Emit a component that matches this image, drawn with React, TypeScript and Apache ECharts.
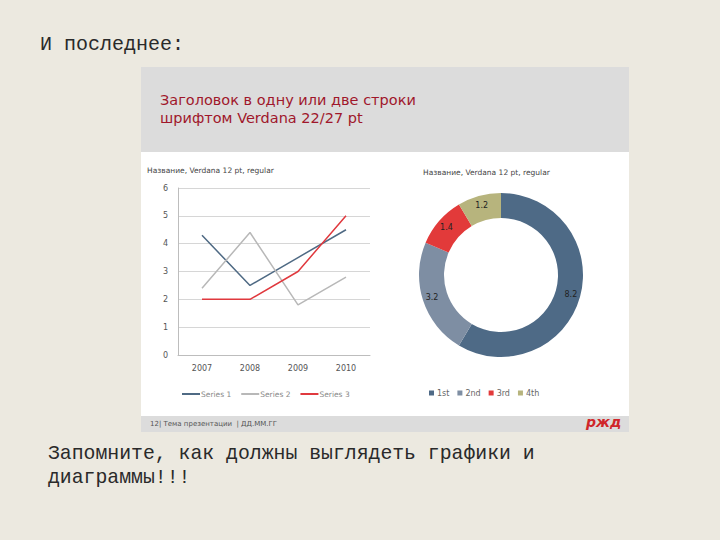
import React, { useEffect, useRef } from "react";
import * as echarts from "echarts";

const years = ["2007", "2008", "2009", "2010"];
const series1 = [4.3, 2.5, 3.5, 4.5];
const series2 = [2.4, 4.4, 1.8, 2.8];
const series3 = [2.0, 2.0, 3.0, 5.0];
const seriesNames = ["Series 1", "Series 2", "Series 3"];
const pieNames = ["1st", "2nd", "3rd", "4th"];
const pieValues = [8.2, 3.2, 1.4, 1.2];

const lineColors = ["#4F6A84", "#B8B8B8", "#E0393E"];
const pieColors = ["#4E6A86", "#7E8EA3", "#E23A3A", "#B7B47D"];

export default function App() {
  const ref = useRef<HTMLDivElement>(null);
  useEffect(() => {
    if (!ref.current) return;
    const chart = echarts.init(ref.current, undefined, { renderer: "svg" });
    const lineData = [series1, series2, series3];
    chart.setOption({
      animation: false,
      backgroundColor: "#ECE9E0",
      graphic: [
        { type: "rect", z: -10, shape: { x: 141, y: 67, width: 488, height: 365 }, style: { fill: "#FFFFFF" } },
        { type: "rect", z: -9, shape: { x: 141, y: 67, width: 488, height: 85 }, style: { fill: "#DCDCDC" } },
        { type: "rect", z: -9, shape: { x: 141, y: 416, width: 488, height: 16 }, style: { fill: "#DCDCDC" } },
        {
          type: "text", left: 40, top: 34,
          style: { text: "И последнее:", font: "20px 'Liberation Mono', monospace", fill: "#2A2A2A" },
        },
        {
          type: "text", left: 48, top: 444,
          style: { text: "Запомните, как должны выглядеть графики и", font: "19.8px 'Liberation Mono', monospace", fill: "#2A2A2A" },
        },
        {
          type: "text", left: 48, top: 468,
          style: { text: "диаграммы!!!", font: "19.8px 'Liberation Mono', monospace", fill: "#2A2A2A" },
        },
        {
          type: "text", left: 160, top: 91,
          style: { text: "Заголовок в одну или две строки\nшрифтом Verdana 22/27 pt", font: "14.5px 'DejaVu Sans', Verdana, sans-serif", fill: "#A0172B", lineHeight: 18 },
        },
        {
          type: "text", left: 147, top: 166,
          style: { text: "Название, Verdana 12 pt, regular", font: "7.5px 'DejaVu Sans', sans-serif", fill: "#444" },
        },
        {
          type: "text", left: 423, top: 168,
          style: { text: "Название, Verdana 12 pt, regular", font: "7.5px 'DejaVu Sans', sans-serif", fill: "#444" },
        },
        {
          type: "text", left: 150, top: 420,
          style: { text: "12| Тема презентации  | ДД.ММ.ГГ", font: "7px 'DejaVu Sans', sans-serif", fill: "#555" },
        },
        {
          type: "text", left: 586, top: 415,
          style: { text: "ржд", font: "italic bold 14px 'DejaVu Sans', sans-serif", fill: "#D0262A" },
        },
      ],
      grid: { left: 178, right: 350, top: 188, bottom: 185 },
      xAxis: {
        type: "category",
        data: years,
        boundaryGap: true,
        axisLine: { lineStyle: { color: "#BDBDBD" } },
        axisTick: { show: false },
        axisLabel: { fontSize: 8, color: "#555", margin: 9, fontFamily: "DejaVu Sans" },
      },
      yAxis: {
        type: "value",
        min: 0,
        max: 6,
        interval: 1,
        axisLine: { show: true, lineStyle: { color: "#BDBDBD" } },
        axisTick: { show: false },
        axisLabel: { fontSize: 8, color: "#555", margin: 10, fontFamily: "DejaVu Sans" },
        splitLine: { lineStyle: { color: "#D6D6D6" } },
      },
      legend: [
        {
          data: seriesNames,
          left: 177,
          top: 385,
          icon: "rect",
          itemWidth: 18,
          itemHeight: 2,
          itemGap: 10,
          textStyle: { fontSize: 7.5, color: "#888", fontFamily: "DejaVu Sans", padding: [0, 0, 0, -4] },
        },
        {
          data: pieNames,
          left: 424,
          top: 384,
          icon: "rect",
          itemWidth: 5,
          itemHeight: 5,
          itemGap: 8,
          textStyle: { fontSize: 8, color: "#666", fontFamily: "DejaVu Sans", padding: [0, 0, 0, -2] },
        },
      ],
      series: [
        ...seriesNames.map((name, i) => ({
          name,
          type: "line",
          data: lineData[i],
          symbol: "none",
          lineStyle: { color: lineColors[i], width: 1.5 },
          itemStyle: { color: lineColors[i] },
        })),
        {
          type: "pie",
          center: [501, 275],
          radius: [57, 82],
          startAngle: 90,
          clockwise: true,
          data: pieNames.map((n, i) => ({ name: n, value: pieValues[i], itemStyle: { color: pieColors[i] } })),
          label: { show: true, position: "inside", formatter: "{c}", fontSize: 8, color: "#222", fontFamily: "DejaVu Sans" },
          labelLine: { show: false },
          emphasis: { disabled: true },
        },
      ],
    });
    return () => chart.dispose();
  }, []);
  return <div ref={ref} style={{ position: "fixed", left: 0, top: 0, width: 720, height: 540 }} />;
}
